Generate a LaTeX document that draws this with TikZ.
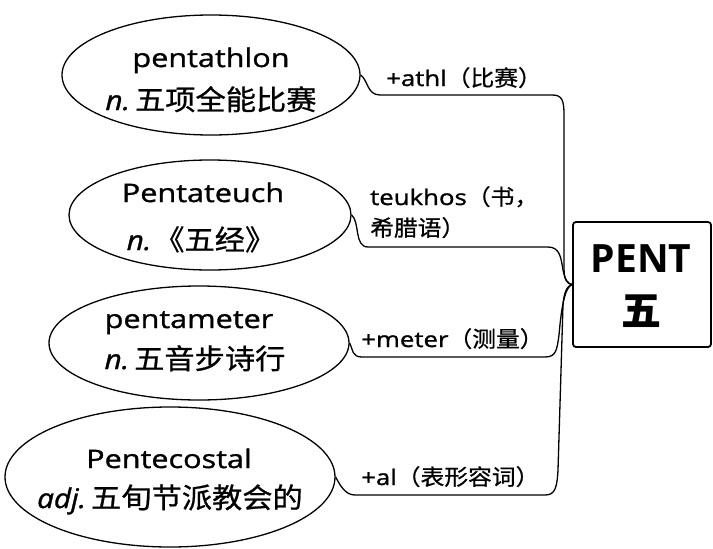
\documentclass[tikz,border=0pt]{standalone}
\usepackage{fontspec}
\usetikzlibrary{shapes.geometric}
\newfontfamily\lat{Open Sans}[FakeStretch=1.2,FakeBold=1.2]
\newfontfamily\latit{Open Sans}[FakeStretch=1.1,FakeBold=1.2]
\newfontfamily\cjk{Noto Sans CJK SC}[FakeStretch=1.08,FakeBold=0.8]
\newfontfamily\headlat{Open Sans}
\newfontfamily\headcjk{Noto Sans CJK SC}
\begin{document}
\begin{tikzpicture}[x=1pt,y=-1pt,
  ell/.style={draw, ellipse, line width=1.3pt, inner sep=0pt},
  wordline/.style={anchor=base, inner sep=0pt, font=\lat\fontsize{25.5}{30}\selectfont},
  meanline/.style={anchor=base, inner sep=0pt},
  lab/.style={anchor=base west, inner sep=0pt},
  conn/.style={line width=1.3pt, line join=round}
]
\useasboundingbox (0,0) rectangle (713,549);
\newcommand\pos[1]{{\latit\itshape\fontsize{27}{30}\selectfont #1}}
\newcommand\zh[1]{{\cjk\fontsize{28}{30}\selectfont #1}}
\newcommand\lzh[1]{{\cjk\fontsize{22}{26}\selectfont #1}}
\newcommand\llat[1]{{\lat\fontsize{21.5}{26}\selectfont #1}}

% ellipses
\node[ell, minimum width=298pt, minimum height=120pt] (e1) at (211,75) {};
\node[ell, minimum width=282pt, minimum height=110pt] (e2) at (210,215) {};
\node[ell, minimum width=300pt, minimum height=114pt] (e3) at (199,343) {};
\node[ell, minimum width=330pt, minimum height=140pt] (e4) at (170,477) {};

% ellipse texts
\node[wordline] (w1) at (211,67) {pentathlon};
\node[meanline] (m1) at (211,110) {\pos{n.}\hspace{5pt}\zh{五项全能比赛}};
\node[wordline] (w2) at (203,202) {Pentateuch};
\node[meanline] (m2) at (201,250) {\pos{n.}\hspace{3pt}\zh{《五经》}};
\node[wordline] (w3) at (189,328) {pentameter};
\node[meanline] (m3) at (195,369) {\pos{n.}\hspace{5pt}\zh{五音步诗行}};
\node[wordline] (w4) at (169,468) {Pentecostal};
\node[meanline] (m4) at (170,508) {\pos{adj.}\hspace{5pt}\zh{五旬节派教会的}};

% root box
\node[draw, line width=1.8pt, rounded corners=3pt, minimum width=138pt, minimum height=125pt, inner sep=0pt] (root) at (642,284.5) {};
\node[anchor=base, inner sep=0pt, font=\headlat\bfseries\fontsize{39}{44}\selectfont] (rootw) at (641,272) {PENT};
\node[anchor=base, inner sep=0pt, font=\headcjk\bfseries\fontsize{40}{44}\selectfont] (rootz) at (641,325) {五};

% labels
\node[lab] (l1) at (386,86) {\llat{+athl}\lzh{（比赛）}};
\node[lab] (l2a) at (370,205) {\llat{teukhos}\lzh{（书，}};
\node[lab] (l2b) at (370,236) {\lzh{希腊语）}};
\node[lab] (l3) at (361,347) {\llat{+meter}\lzh{（测量）}};
\node[lab] (l4) at (361,485) {\llat{+al}\lzh{（表形容词）}};

% connectors
\draw[conn] (e1.east) .. controls (368,80) and (367,95) .. (380,95) -- (552,95)
  .. controls (562,95) and (564,100) .. (564,115) -- (564,268)
  .. controls (564,280) and (567,284) .. (root.west);
\draw[conn] (e2.east) .. controls (360,222) and (354,247) .. (368,247) -- (548,247)
  .. controls (560,247) and (561,258) .. (563,270)
  .. controls (565,280) and (568,284) .. (root.west);
\draw[conn] (e3.east) .. controls (353,350) and (352,357) .. (362,357) -- (545,357)
  .. controls (556,357) and (557,350) .. (559,335)
  .. controls (562,300) and (566,287) .. (root.west);
\draw[conn] (e4.east) .. controls (340,485) and (345,495) .. (355,495) -- (545,495)
  .. controls (555,495) and (557,488) .. (558,470) -- (563,305)
  .. controls (564,292) and (567,286) .. (root.west);
\end{tikzpicture}
\end{document}
